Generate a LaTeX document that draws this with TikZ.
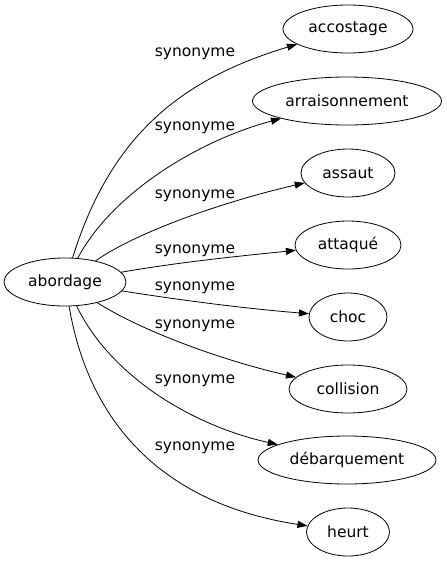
\documentclass[tikz,border=0pt]{standalone}
\usepackage{fontspec}
\setmainfont{DejaVu Sans}
\usetikzlibrary{shapes.geometric,arrows.meta}
\begin{document}
\begin{tikzpicture}[x=1pt, y=-1pt, line width=0.8pt]

\tikzstyle{word}=[ellipse, draw, inner sep=0pt, minimum height=48pt, font=\fontsize{15.5}{18}\selectfont]
\tikzstyle{lbl}=[inner sep=0pt, font=\fontsize{15.5}{18}\selectfont]
\tikzstyle{arrow}=[-{Triangle[length=10pt,width=7pt]}]

\useasboundingbox (0,0) rectangle (447,563);

\node (abordage) [word, minimum width=122pt] at (65,282) {abordage};

\node (accostage) [word, minimum width=130pt] at (348,29) {accostage};
\node (arraisonnement) [word, minimum width=189pt] at (347,101) {arraisonnement};
\node (assaut) [word, minimum width=94pt] at (348,173) {assaut};
\node (attaque) [word, minimum width=106pt] at (348,245) {attaqué};
\node (choc) [word, minimum width=78pt] at (348,317) {choc};
\node (collision) [word, minimum width=118pt] at (348,389) {collision};
\node (debarquement) [word, minimum width=178pt] at (347,460) {débarquement};
\node (heurt) [word, minimum width=83pt] at (348,532) {heurt};


\draw [arrow] (abordage) .. controls (110,138) and (178,80) .. (accostage)
      node [lbl] at (195,54) {synonyme};
\draw [arrow] (abordage) .. controls (113,192) and (200,140) .. (arraisonnement)
      node [lbl] at (195,128) {synonyme};
\draw [arrow] (abordage) .. controls (140,230) and (230,200) .. (assaut)
      node [lbl] at (195,196) {synonyme};
\draw [arrow] (abordage) .. controls (180,262) and (240,256) .. (attaque)
      node [lbl] at (195,251) {synonyme};
\draw [arrow] (abordage) .. controls (180,300) and (240,308) .. (choc)
      node [lbl] at (195,288) {synonyme};
\draw [arrow] (abordage) .. controls (140,330) and (220,360) .. (collision)
      node [lbl] at (195,326) {synonyme};
\draw [arrow] (abordage) .. controls (110,375) and (190,425) .. (debarquement)
      node [lbl] at (195,381) {synonyme};
\draw [arrow] (abordage) .. controls (90,430) and (170,505) .. (heurt)
      node [lbl] at (195,448) {synonyme};

\end{tikzpicture}
\end{document}
